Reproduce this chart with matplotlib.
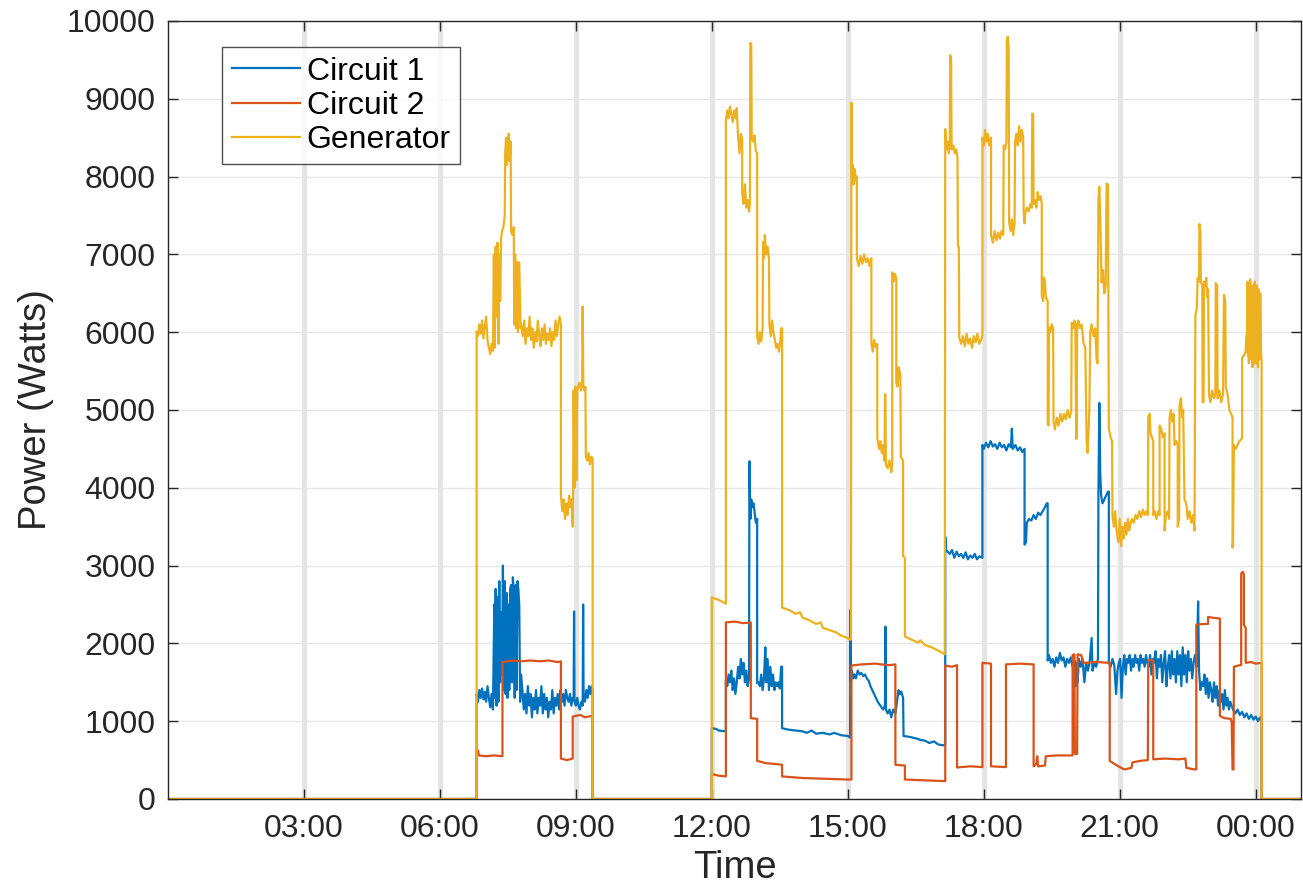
import numpy as np
import matplotlib
matplotlib.use('Agg')
import matplotlib.pyplot as plt
from matplotlib.ticker import FixedLocator, FuncFormatter

# (hour of day, watts); hours past 24 are next day
circuit1 = [
    (0, 0), (6.81, 0), (6.81, 1350),
    (6.84, 1250), (6.87, 1400), (6.90, 1300), (6.93, 1420), (6.96, 1280), (6.99, 1380), (7.02, 1250),
    (7.05, 1450), (7.08, 1300), (7.11, 1180), (7.14, 1350), (7.17, 1150),
    (7.20, 2500), (7.21, 1300), (7.23, 2700), (7.25, 1200), (7.27, 2600), (7.29, 1250), (7.31, 2800),
    (7.33, 1500), (7.35, 2400), (7.37, 1600), (7.39, 3000), (7.41, 1400), (7.43, 2800), (7.45, 1350),
    (7.47, 2650), (7.49, 1300), (7.51, 2500), (7.53, 1400), (7.55, 2700), (7.57, 2750), (7.59, 1500),
    (7.61, 2850), (7.63, 2600), (7.65, 1300), (7.67, 2750), (7.69, 1400), (7.71, 2800), (7.73, 2700),
    (7.75, 2500), (7.77, 1250), (7.79, 1600),
    (7.82, 1400), (7.85, 1150), (7.88, 1350), (7.91, 1100), (7.94, 1450), (7.97, 1200), (8.00, 1350),
    (8.03, 1050), (8.06, 1300), (8.09, 1150), (8.12, 1400), (8.15, 1100), (8.18, 1300), (8.21, 1200),
    (8.24, 1450), (8.27, 1100), (8.30, 1350), (8.33, 1150), (8.36, 1300), (8.39, 1050), (8.42, 1250),
    (8.45, 1150), (8.48, 1400), (8.51, 1100), (8.54, 1300), (8.57, 1200), (8.60, 1350), (8.63, 1150),
    (8.66, 1400), (8.69, 1250), (8.72, 1350), (8.75, 1200), (8.78, 1400), (8.81, 1300), (8.84, 1250),
    (8.87, 1350), (8.90, 1200), (8.93, 1300), (8.95, 1300), (8.96, 2410), (8.97, 1250), (9.00, 1200),
    (9.03, 1300), (9.06, 1200), (9.09, 1150), (9.12, 1250), (9.15, 1200), (9.16, 2500), (9.17, 1300),
    (9.20, 1250), (9.23, 1400), (9.26, 1300), (9.29, 1450), (9.32, 1350), (9.35, 1450), (9.37, 1400),
    (9.37, 0), (12.0, 0), (12.0, 910), (12.1, 900), (12.15, 880), (12.31, 870), (12.31, 1520),
    (12.34, 1450), (12.37, 1600), (12.40, 1500), (12.43, 1650), (12.46, 1400), (12.49, 1550),
    (12.52, 1350), (12.55, 1500), (12.58, 1700), (12.61, 1550), (12.64, 1800), (12.67, 1600),
    (12.70, 1750), (12.73, 1500), (12.76, 1650), (12.79, 1450), (12.82, 1550),
    (12.83, 4340), (12.85, 3600), (12.87, 3850), (12.89, 3750), (12.92, 3800), (12.95, 3650),
    (12.97, 3550), (13.0, 3600), (13.0, 1490),
    (13.03, 1500), (13.06, 1450), (13.09, 1600), (13.12, 1400), (13.15, 1550), (13.18, 1950),
    (13.20, 1500), (13.23, 1800), (13.26, 1400), (13.29, 1700), (13.32, 1450), (13.35, 1600),
    (13.38, 1400), (13.41, 1500), (13.44, 1450), (13.47, 1500), (13.50, 1420), (13.53, 1700),
    (13.55, 1700), (13.55, 910),
    (13.7, 890), (13.85, 880), (14.0, 870), (14.1, 850), (14.2, 880), (14.3, 840), (14.45, 850),
    (14.6, 830), (14.7, 850), (14.85, 820), (15.0, 810), (15.05, 790),
    (15.06, 2430), (15.07, 1500), (15.09, 1650), (15.12, 1550), (15.15, 1600), (15.18, 1550),
    (15.22, 1650), (15.26, 1600), (15.30, 1620), (15.34, 1580), (15.38, 1600), (15.42, 1550),
    (15.46, 1520), (15.50, 1450), (15.54, 1400), (15.58, 1350), (15.62, 1300), (15.66, 1250),
    (15.72, 1200), (15.78, 1150), (15.82, 1200), (15.83, 2215), (15.84, 1150), (15.88, 1100),
    (15.92, 1150), (15.96, 1050), (16.00, 1150), (16.05, 1100), (16.12, 1400), (16.15, 1350),
    (16.18, 1380), (16.22, 1300), (16.23, 810),
    (16.35, 800), (16.5, 780), (16.6, 760), (16.7, 750), (16.8, 720), (16.9, 740), (17.0, 700),
    (17.1, 690), (17.15, 700), (17.15, 3370), (17.17, 3200),
    (17.2, 3180), (17.25, 3150), (17.3, 3200), (17.35, 3100), (17.4, 3180), (17.45, 3120),
    (17.5, 3150), (17.55, 3100), (17.6, 3170), (17.65, 3080), (17.7, 3130), (17.75, 3100),
    (17.8, 3150), (17.85, 3080), (17.9, 3120), (17.97, 3100), (17.97, 4550),
    (18.0, 4500), (18.05, 4580), (18.1, 4520), (18.15, 4600), (18.2, 4530), (18.25, 4560),
    (18.3, 4500), (18.35, 4580), (18.4, 4520), (18.45, 4550), (18.5, 4480), (18.55, 4560),
    (18.6, 4520), (18.62, 4760), (18.64, 4500), (18.7, 4550), (18.75, 4480), (18.8, 4520),
    (18.85, 4460), (18.9, 4500), (18.9, 3270),
    (18.93, 3300), (18.95, 3550), (19.0, 3600), (19.05, 3580), (19.1, 3650), (19.15, 3600),
    (19.2, 3680), (19.25, 3650), (19.3, 3700), (19.35, 3750), (19.39, 3800), (19.41, 3800),
    (19.41, 1780),
    (19.44, 1850), (19.48, 1750), (19.52, 1800), (19.56, 1700), (19.60, 1820), (19.64, 1750),
    (19.68, 1880), (19.72, 1780), (19.76, 1820), (19.80, 1700), (19.84, 1800), (19.88, 1750),
    (19.92, 1820), (19.96, 1700), (20.00, 1780), (20.03, 1450), (20.05, 1750), (20.07, 1500),
    (20.10, 1800), (20.14, 1700), (20.18, 1800), (20.22, 1500), (20.26, 1750), (20.30, 1650),
    (20.34, 1780), (20.38, 2070), (20.40, 1650), (20.44, 1750), (20.48, 1700), (20.52, 1800),
    (20.53, 3900), (20.55, 5090), (20.57, 4200), (20.59, 3900), (20.62, 3800), (20.66, 3850),
    (20.70, 3900), (20.74, 3950), (20.76, 3950), (20.76, 1750),
    (20.8, 1700), (20.84, 1800), (20.88, 1720), (20.92, 1350), (20.95, 1650), (20.98, 1750),
    (21.01, 1800), (21.04, 1300), (21.07, 1700), (21.10, 1850), (21.13, 1600), (21.16, 1800),
    (21.19, 1750), (21.22, 1850), (21.25, 1650), (21.28, 1800), (21.31, 1700), (21.34, 1850),
    (21.37, 1750), (21.40, 1800), (21.43, 1650), (21.46, 1850), (21.49, 1750), (21.52, 1800),
    (21.55, 1700), (21.58, 1850), (21.61, 1750), (21.64, 1700), (21.67, 1850), (21.70, 1600),
    (21.73, 1800), (21.76, 1750), (21.79, 1900), (21.82, 1550), (21.85, 1800), (21.88, 1700),
    (21.91, 1850), (21.94, 1500), (21.97, 1750), (22.0, 1900), (22.03, 1450), (22.06, 1700),
    (22.09, 1850), (22.12, 1550), (22.15, 1900), (22.18, 1600), (22.21, 1800), (22.24, 1500),
    (22.27, 1900), (22.30, 1600), (22.33, 1850), (22.36, 1450), (22.39, 1950), (22.42, 1600),
    (22.45, 1850), (22.48, 1500), (22.51, 1900), (22.54, 1650), (22.57, 1800), (22.60, 1550),
    (22.63, 1750), (22.66, 1850), (22.70, 1700), (22.73, 2540), (22.75, 1650), (22.78, 1400),
    (22.81, 1500), (22.84, 1450), (22.87, 1600), (22.90, 1350), (22.93, 1550), (22.96, 1300),
    (22.99, 1500), (23.02, 1400), (23.05, 1250), (23.08, 1500), (23.11, 1300), (23.14, 1450),
    (23.17, 1200), (23.20, 1400), (23.23, 1250), (23.26, 1350), (23.29, 1150), (23.32, 1400),
    (23.35, 1200), (23.38, 1300), (23.41, 1150), (23.44, 1250), (23.50, 1150), (23.55, 1100),
    (23.60, 1150), (23.65, 1080), (23.70, 1120), (23.75, 1050), (23.80, 1100), (23.85, 1030),
    (23.90, 1080), (23.95, 1020), (24.0, 1060), (24.05, 1000), (24.10, 1050), (24.13, 1030),
    (24.13, 0), (25.0, 0),
]

circuit2 = [
    (0, 0), (6.81, 0), (6.81, 640), (6.84, 620), (6.86, 560), (7.0, 550), (7.2, 560), (7.38, 550),
    (7.38, 1760), (7.6, 1780), (7.8, 1770), (8.0, 1780), (8.2, 1770), (8.4, 1780), (8.6, 1760),
    (8.67, 1770), (8.67, 520), (8.8, 500), (8.93, 520), (8.93, 1060), (9.1, 1080), (9.2, 1050),
    (9.37, 1070), (9.37, 0),
    (12.0, 0), (12.0, 320), (12.15, 300), (12.31, 290), (12.31, 2270), (12.5, 2280), (12.7, 2260),
    (12.86, 2270), (12.86, 1040), (13.0, 1030), (13.0, 490), (13.2, 460), (13.4, 450), (13.55, 440),
    (13.55, 290), (14.0, 270), (14.5, 260), (15.0, 250), (15.08, 250), (15.08, 1715), (15.3, 1730),
    (15.6, 1740), (15.9, 1720), (16.05, 1730), (16.05, 440), (16.26, 430), (16.26, 250), (16.7, 240),
    (17.15, 230), (17.15, 1715), (17.3, 1700), (17.41, 1720), (17.41, 405), (17.7, 420), (17.97, 410),
    (17.97, 1750), (18.16, 1740), (18.16, 420), (18.49, 410), (18.49, 1730), (18.8, 1740),
    (19.1, 1730), (19.1, 420), (19.16, 450), (19.18, 550), (19.20, 420), (19.35, 430), (19.37, 550),
    (19.6, 560), (19.96, 560), (19.96, 1850), (20.0, 1860), (20.01, 580), (20.06, 580),
    (20.07, 1860), (20.15, 1850), (20.2, 1750), (20.5, 1760), (20.78, 1750), (20.78, 490),
    (20.97, 420), (21.1, 380), (21.26, 400), (21.28, 470), (21.45, 490), (21.62, 500),
    (21.63, 1780), (21.70, 1790), (21.74, 1780), (21.74, 510), (22.0, 520), (22.3, 510),
    (22.45, 520), (22.47, 400), (22.65, 380), (22.69, 380), (22.69, 2240), (22.85, 2250),
    (22.95, 2250), (22.95, 2340), (23.05, 2330), (23.21, 2320), (23.21, 1070), (23.3, 1040),
    (23.45, 1030), (23.47, 990), (23.49, 380), (23.51, 380), (23.52, 1700), (23.65, 1720),
    (23.68, 1720), (23.68, 2900), (23.72, 2920), (23.74, 2880), (23.74, 2240), (23.78, 2200),
    (23.78, 1750), (23.9, 1760), (24.0, 1740), (24.13, 1750), (24.13, 0), (25.0, 0),
]

generator = [
    (0, 0), (6.81, 0), (6.81, 6010),
    (6.84, 5950), (6.87, 6100), (6.90, 5980), (6.93, 6150), (6.96, 5920), (6.99, 6080), (7.02, 6200),
    (7.05, 5900), (7.08, 5800), (7.11, 5720), (7.14, 5850), (7.17, 5760),
    (7.19, 7000), (7.21, 5800), (7.23, 7100), (7.25, 6200), (7.27, 7150), (7.29, 5850), (7.31, 7000),
    (7.33, 6400), (7.35, 7200), (7.37, 7300), (7.40, 7350), (7.43, 7500), (7.44, 8300), (7.46, 8500),
    (7.48, 8150), (7.50, 8400), (7.52, 8550), (7.54, 8200), (7.56, 8450), (7.57, 7300),
    (7.60, 7250), (7.63, 7350), (7.64, 6100), (7.66, 7000), (7.68, 6050), (7.70, 6900), (7.72, 6000),
    (7.75, 6900), (7.78, 6050), (7.79, 6100),
    (7.83, 5950), (7.86, 6150), (7.89, 5850), (7.92, 6050), (7.95, 5950), (7.98, 6200), (8.01, 5900),
    (8.04, 6050), (8.07, 5800), (8.10, 6000), (8.13, 5880), (8.16, 6150), (8.19, 5950), (8.22, 5820),
    (8.25, 6050), (8.28, 5900), (8.31, 6100), (8.34, 5850), (8.37, 5980), (8.40, 5900), (8.43, 6050),
    (8.46, 5820), (8.49, 6000), (8.52, 5900), (8.55, 6150), (8.58, 5950), (8.61, 6100), (8.64, 6200),
    (8.67, 6100), (8.67, 3900), (8.70, 3700), (8.73, 3850), (8.76, 3600), (8.79, 3800), (8.82, 3650),
    (8.85, 3900), (8.88, 3750), (8.91, 3850), (8.93, 3500),
    (8.94, 4100), (8.95, 5250), (8.97, 4000), (8.99, 5300), (9.01, 4100), (9.03, 5250), (9.05, 5300),
    (9.08, 5350), (9.11, 5250), (9.14, 5400), (9.15, 6330), (9.165, 5300), (9.19, 5250), (9.21, 5300),
    (9.22, 4400), (9.25, 4350), (9.28, 4450), (9.31, 4300), (9.34, 4400), (9.37, 4380), (9.37, 0),
    (12.0, 0), (12.0, 2590), (12.15, 2560), (12.31, 2510), (12.31, 8720),
    (12.34, 8850), (12.37, 8750), (12.40, 8900), (12.43, 8800), (12.46, 8700), (12.49, 8850),
    (12.52, 8750), (12.55, 8880), (12.58, 8500), (12.61, 8300), (12.64, 8550), (12.67, 8480),
    (12.67, 7800), (12.70, 7650), (12.73, 7900), (12.76, 7600), (12.79, 7700), (12.82, 7550),
    (12.84, 7650), (12.85, 9720), (12.87, 9700), (12.88, 8490), (12.91, 8450), (12.94, 8530),
    (12.97, 8330), (13.0, 8300), (13.0, 5950), (13.03, 5850), (13.06, 6000), (13.09, 5880),
    (13.12, 6050), (13.13, 7160), (13.15, 6950), (13.17, 7250), (13.20, 7000), (13.23, 7100),
    (13.26, 6950), (13.27, 6100), (13.30, 5950), (13.33, 6150), (13.36, 6000), (13.39, 5900),
    (13.42, 5800), (13.45, 5850), (13.48, 5750), (13.51, 5880), (13.53, 6050), (13.55, 6050),
    (13.55, 2460), (13.7, 2430), (13.85, 2380), (13.95, 2400), (14.0, 2330), (14.15, 2300),
    (14.3, 2250), (14.4, 2270), (14.45, 2200), (14.6, 2170), (14.75, 2140), (14.85, 2100),
    (14.95, 2080), (15.05, 2050), (15.07, 2050), (15.08, 8950), (15.09, 8000), (15.11, 8150),
    (15.13, 7900), (15.15, 8100), (15.18, 7950), (15.20, 8000),
    (15.20, 6950), (15.24, 6850), (15.28, 6980), (15.32, 6880), (15.36, 7000), (15.40, 6900),
    (15.44, 6950), (15.48, 6850), (15.52, 6950), (15.52, 5850), (15.55, 5750), (15.58, 5900),
    (15.62, 5800), (15.65, 5850), (15.65, 4650), (15.69, 4500), (15.72, 4600), (15.75, 4450),
    (15.78, 4550), (15.80, 4350), (15.81, 4350), (15.82, 5200), (15.83, 5200), (15.84, 4300),
    (15.88, 4250), (15.92, 4350), (15.96, 4200), (15.98, 4300), (15.98, 6770), (16.01, 6650),
    (16.04, 6750), (16.07, 6700), (16.07, 5350), (16.10, 5300), (16.12, 5550), (16.14, 5500),
    (16.16, 5450), (16.17, 4400), (16.20, 4370), (16.22, 4350), (16.22, 3120), (16.26, 3100),
    (16.26, 2090), (16.4, 2050), (16.55, 2010), (16.6, 2040), (16.7, 1980), (16.85, 1950),
    (16.95, 1920), (17.05, 1890), (17.14, 1860), (17.15, 8610), (17.18, 8350), (17.21, 8450),
    (17.23, 8300), (17.25, 8500), (17.26, 9560), (17.28, 9500), (17.29, 8350), (17.33, 8400),
    (17.36, 8300), (17.39, 8350), (17.42, 8250), (17.43, 7110), (17.45, 7100), (17.46, 5930),
    (17.50, 5850), (17.54, 5950), (17.58, 5820), (17.62, 5980), (17.66, 5850), (17.70, 5920),
    (17.74, 5800), (17.78, 5950), (17.82, 5870), (17.86, 5980), (17.90, 5850), (17.94, 5900),
    (17.97, 5950), (17.97, 8500), (18.0, 8400), (18.03, 8600), (18.06, 8450), (18.09, 8550),
    (18.12, 8400), (18.16, 8500), (18.16, 7250), (18.20, 7150), (18.24, 7300), (18.28, 7180),
    (18.32, 7280), (18.36, 7200), (18.39, 7300), (18.43, 7250), (18.44, 8400), (18.47, 8350),
    (18.50, 8450), (18.51, 9750), (18.53, 9800), (18.55, 9650), (18.56, 7420), (18.59, 7300),
    (18.62, 7450), (18.65, 7250), (18.68, 7400), (18.69, 8460), (18.72, 8550), (18.75, 8400),
    (18.78, 8650), (18.81, 8450), (18.84, 8600), (18.87, 8500), (18.88, 7550), (18.90, 7400),
    (18.92, 7550), (18.95, 7600), (18.99, 7550), (19.03, 7650), (19.06, 7600), (19.07, 8810),
    (19.09, 8800), (19.10, 7650), (19.13, 7700), (19.16, 7600), (19.19, 7800), (19.22, 7700),
    (19.25, 7750), (19.28, 7650), (19.28, 6480), (19.31, 6400), (19.33, 6700), (19.35, 6650),
    (19.37, 6450), (19.41, 6400), (19.41, 4830), (19.43, 4800), (19.44, 6060), (19.47, 6000),
    (19.50, 6100), (19.53, 6050), (19.54, 4850), (19.57, 4750), (19.61, 4900), (19.65, 4800),
    (19.69, 4950), (19.73, 4850), (19.77, 4950), (19.81, 4880), (19.85, 5000), (19.89, 4900),
    (19.93, 4980), (19.94, 6120), (19.97, 6050), (20.0, 6150), (20.02, 6100), (20.04, 4630),
    (20.05, 4630), (20.06, 6100), (20.09, 6150), (20.12, 6050), (20.16, 6100), (20.20, 5860),
    (20.24, 5800), (20.27, 4600), (20.29, 4450), (20.31, 4700), (20.33, 5000), (20.35, 6000),
    (20.38, 6100), (20.42, 5950), (20.46, 6050), (20.49, 5650), (20.51, 5600), (20.53, 7700),
    (20.55, 7870), (20.57, 7500), (20.60, 6640), (20.63, 6800), (20.66, 6500), (20.69, 6600),
    (20.71, 7910), (20.74, 7900), (20.76, 4760), (20.80, 4650), (20.83, 4600), (20.84, 3650),
    (20.87, 3500), (20.90, 3700), (20.93, 3450), (20.97, 3300), (21.0, 3600), (21.03, 3250),
    (21.06, 3500), (21.09, 3350), (21.12, 3550), (21.15, 3400), (21.18, 3600), (21.21, 3450),
    (21.24, 3550), (21.27, 3600), (21.31, 3550), (21.35, 3650), (21.39, 3600), (21.43, 3700),
    (21.47, 3620), (21.51, 3720), (21.55, 3650), (21.59, 3700), (21.62, 3650), (21.63, 4900),
    (21.66, 4950), (21.68, 4700), (21.71, 4650), (21.74, 4600), (21.74, 3650), (21.77, 3700),
    (21.81, 3600), (21.85, 3700), (21.88, 3650), (21.88, 4800), (21.92, 4750), (21.95, 4650),
    (21.99, 4700), (21.99, 3450), (22.02, 3650), (22.06, 3700), (22.09, 3600), (22.10, 4900),
    (22.13, 5000), (22.16, 4850), (22.19, 4950), (22.21, 4550), (22.25, 4600), (22.28, 4550),
    (22.28, 3500), (22.31, 3600), (22.32, 5050), (22.35, 5150), (22.38, 4900), (22.40, 5000),
    (22.43, 3850), (22.47, 3800), (22.50, 3600), (22.54, 3700), (22.58, 3550), (22.62, 3650),
    (22.65, 3450), (22.67, 6220), (22.70, 6300), (22.72, 6700), (22.75, 6650), (22.76, 7390),
    (22.78, 7300), (22.79, 6650), (22.82, 6600), (22.83, 5100), (22.85, 5100), (22.86, 6650),
    (22.89, 6600), (22.91, 6700), (22.93, 6450), (22.95, 6550), (22.97, 5200), (23.00, 5100),
    (23.04, 5250), (23.08, 5150), (23.11, 5200), (23.12, 6630), (23.15, 6600), (23.16, 5150),
    (23.20, 5250), (23.24, 5100), (23.28, 5200), (23.30, 6480), (23.33, 6400), (23.34, 5300),
    (23.38, 5200), (23.42, 5000), (23.46, 4950), (23.49, 4900), (23.49, 3230), (23.50, 3300),
    (23.52, 4550), (23.56, 4500), (23.60, 4550), (23.64, 4600), (23.68, 4620), (23.70, 4650),
    (23.70, 5670), (23.74, 5700), (23.78, 5750), (23.79, 5920), (23.81, 6000), (23.82, 6650),
    (23.83, 5700), (23.84, 6600), (23.85, 5600), (23.86, 6500), (23.87, 5800), (23.88, 6680),
    (23.89, 5650), (23.90, 6550), (23.91, 5700), (23.92, 6400), (23.93, 5550), (23.94, 6600),
    (23.95, 5750), (23.96, 6500), (23.97, 5600), (23.98, 6650), (23.99, 5700), (24.00, 6500),
    (24.01, 5600), (24.02, 6600), (24.03, 5750), (24.04, 6500), (24.05, 5550), (24.06, 6550),
    (24.07, 5700), (24.08, 6450), (24.09, 5650), (24.10, 6500), (24.12, 5700), (24.13, 5650),
    (24.13, 0), (25.0, 0),
]

series_names = ['Circuit 1', 'Circuit 2', 'Generator']
series_colors = ['#0072BD', '#D95319', '#EDB120']
hour_ticks = [3, 6, 9, 12, 15, 18, 21, 24]

plt.rcParams['font.family'] = ['Liberation Sans', 'DejaVu Sans']
ink = '#262626'

fig = plt.figure(figsize=(13.03, 8.84), dpi=100)
ax = fig.add_axes([168 / 1303, 85 / 884, 1133 / 1303, 778 / 884])

for pts, name, col in zip([circuit1, circuit2, generator], series_names, series_colors):
    arr = np.array(pts, dtype=float)
    ax.plot(arr[:, 0], arr[:, 1], color=col, lw=1.6, label=name)

ax.set_xlim(0, 25)
ax.set_ylim(0, 10000)
ax.xaxis.set_major_locator(FixedLocator(hour_ticks))
ax.xaxis.set_major_formatter(FuncFormatter(lambda h, p: '%02d:00' % (int(round(h)) % 24)))
ax.set_yticks(np.arange(0, 10001, 1000))

ax.set_axisbelow(True)
ax.grid(axis='x', color='#e4e4e4', lw=3.5)
ax.grid(axis='y', color='#e6e6e6', lw=1.0)

for sp in ax.spines.values():
    sp.set_color(ink)
    sp.set_linewidth(1.0)
ax.tick_params(direction='in', length=7, width=1, top=True, right=True,
               colors=ink, labelsize=23)
ax.tick_params(axis='x', pad=11)
ax.tick_params(axis='y', pad=9)

ax.set_xlabel('Time', fontsize=27.5, color=ink, labelpad=4)
ax.set_ylabel('Power (Watts)', fontsize=27.5, color=ink, labelpad=9)

leg = ax.legend(loc='upper left', bbox_to_anchor=(54 / 1133, 752 / 778), borderaxespad=0,
                fontsize=23, frameon=True, fancybox=False, handlelength=2.15,
                handletextpad=0.2, labelspacing=0.13, borderpad=0.3)
leg.get_frame().set_edgecolor(ink)
leg.get_frame().set_linewidth(1.0)

fig.savefig('out.png', dpi=100)
